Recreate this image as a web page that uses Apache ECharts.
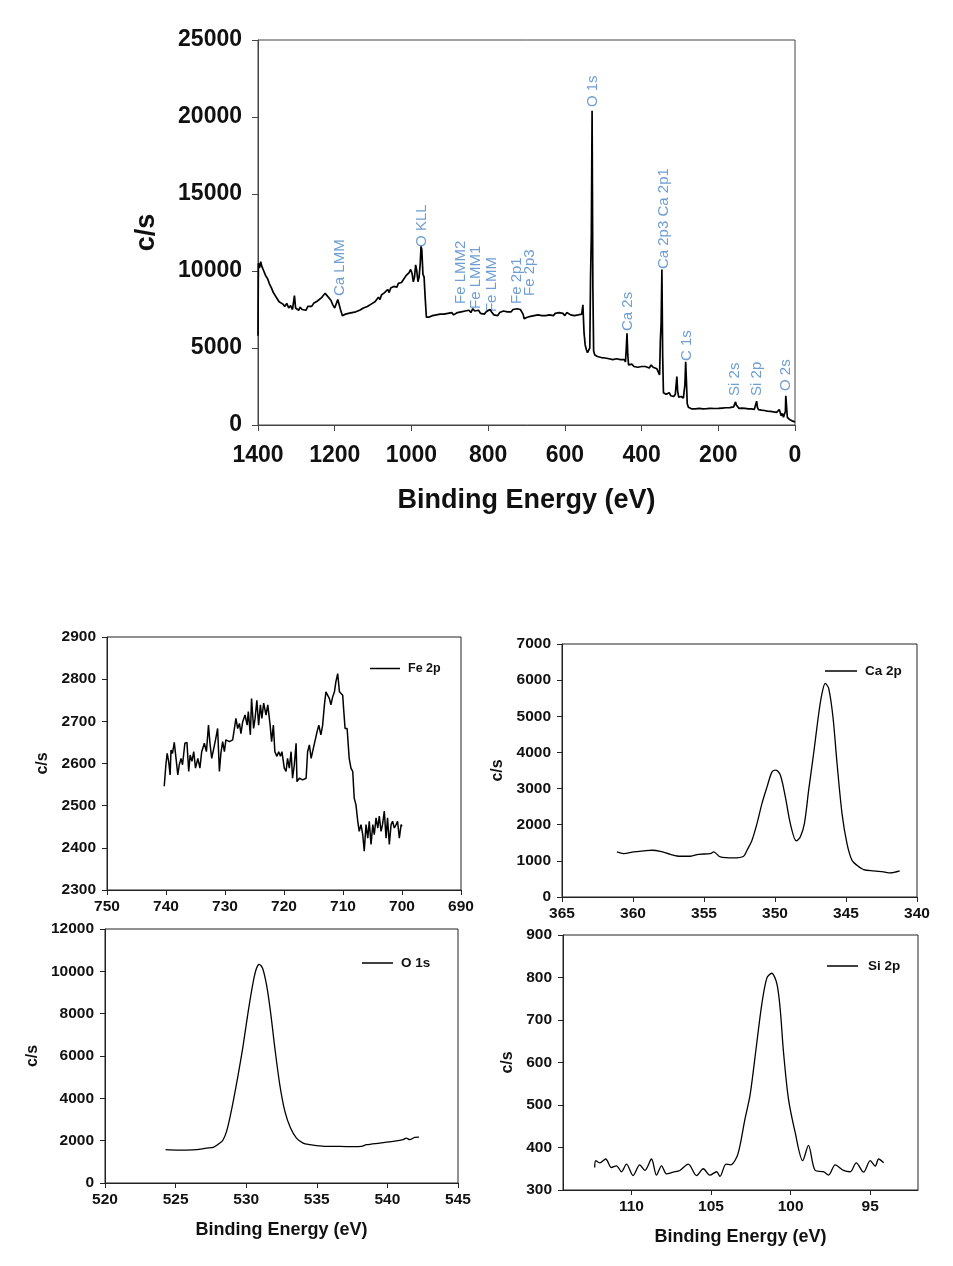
<!DOCTYPE html>
<html>
<head>
<meta charset="utf-8">
<script src="https://cdn.jsdelivr.net/npm/echarts@6/dist/echarts.min.js"></script>
<style>
html,body{margin:0;padding:0;background:#fff;}
#chart{width:953px;height:1266px;}
</style>
</head>
<body>
<div id="chart"></div>
<script>
// ---------- Survey spectrum ----------
const surveyBE = [1400,1399,1396,1393,1390,1385,1380,1375,1370,1365,1360,1355,1350,1345,1340,1335,1330,1325,1320,1315,1310,1305,1302,1298,1294,1290,1285,1280,1275,1270,1265,1260,1255,1250,1245,1240,1235,1230,1225,1220,1215,1210,1205,1200,1196,1192,1188,1185,1180,1176,1172,1168,1164,1160,1155,1150,1145,1140,1135,1130,1125,1120,1115,1110,1105,1100,1095,1090,1086,1082,1078,1074,1070,1066,1062,1058,1054,1050,1046,1042,1038,1034,1030,1026,1022,1018,1014,1010,1006,1002,998,995,992,989,986,983,980,977,975,973,970,967,964,961,958,955,950,945,940,935,930,925,920,915,910,905,900,895,890,885,880,875,870,865,860,855,850,845,840,835,830,825,820,815,810,805,800,795,790,785,780,775,770,765,760,755,750,745,740,735,730,725,720,716,712,709,706,702,698,694,690,685,680,675,670,665,660,655,650,645,640,635,630,625,620,615,610,605,600,595,590,585,580,575,570,565,560,556,553,550,547,544,541,538,535,533,531,529,527,525,522,520,515,510,505,500,495,490,485,480,475,470,465,460,455,450,445,442,440,438,436,434,430,425,420,415,410,405,400,395,390,385,380,375,370,365,360,356,353,351,349,347,345,343,340,336,332,328,324,320,316,312,310,308,306,303,300,297,294,291,289,287,285,283,281,278,275,270,265,260,255,250,245,240,235,230,225,220,215,210,205,200,195,190,185,180,175,170,165,160,157,155,153,150,146,142,138,134,130,126,122,118,114,110,106,102,100,98,95,92,88,84,80,76,72,68,64,60,56,52,48,44,41,39,36,33,30,27,25,24,22,20,17,14,10,6,3,0];
const surveyCps = [5800,10500,10200,10600,10300,10000,9700,9500,9150,8900,8600,8400,8200,8000,7950,7850,7700,7900,7600,7750,7500,8400,7600,7700,7450,7650,7500,7550,7450,7700,7800,7700,7900,7950,8050,8100,8250,8350,8550,8400,8350,8100,7800,7600,7700,8150,8200,7500,7100,7000,7200,7100,7250,7200,7300,7250,7350,7300,7450,7400,7600,7550,7700,7650,7850,7800,8000,8050,8300,8150,8450,8350,8600,8500,8800,8600,8900,8850,9000,9100,8950,9200,9300,9250,9400,9500,9700,9600,9900,10100,9800,9300,9600,10400,10000,9300,9600,10500,11600,11400,9800,9600,8200,7000,6900,7000,6950,7100,7000,7150,7050,7200,7100,7200,7150,7250,7200,7300,7150,7250,7300,7200,7350,7300,7400,7350,7450,7300,7550,7400,7350,7450,7250,7300,7200,7350,7250,7500,7300,7150,7250,7100,7300,7250,7400,7300,7350,7450,7350,7500,7400,7550,7450,7500,7600,7200,6900,6850,7000,6950,7050,7000,7100,7000,7150,7050,7100,7200,7100,7200,7150,7250,7100,7250,7150,7300,7200,7250,7100,7300,7200,7150,7250,7100,7200,7150,7100,7200,7800,6000,5200,4900,4700,4850,5000,9600,12300,20400,9000,4800,4550,4500,4450,4480,4380,4420,4350,4400,4300,4350,4250,4350,4300,4200,4250,4150,4250,4100,4900,5950,4600,3900,3850,3950,3800,3900,3750,3850,3800,3900,3800,3850,3700,3900,3750,3800,3650,3600,3250,5500,6600,10100,4500,2100,2050,2000,1950,2100,1900,1950,1850,2000,2600,3150,2200,1800,1750,1850,1900,1750,2200,2600,4100,2800,1400,1150,1100,1050,1100,1050,1100,1080,1100,1050,1100,1060,1120,1080,1100,1070,1120,1080,1120,1100,1140,1120,1150,1130,1160,1180,1200,1500,1300,1180,1080,1050,1100,1000,1080,1020,1050,980,1050,1000,1020,1100,1550,1150,1000,950,970,920,940,880,900,850,880,820,850,780,820,700,1000,850,600,750,500,450,900,1900,1800,500,400,350,300,250,200,200];

const annotNames = ['Ca LMM','O KLL','Fe LMM2','Fe LMM1','Fe LMM','Fe 2p1','Fe 2p3','O 1s','Ca 2s','Ca 2p3 Ca 2p1','C 1s','Si 2s','Si 2p','O 2s'];
const annotBE = [1186,972,871,832,790,725,691,527,435,342,282,156,99,23];
const annotCps = [8310,11500,7790,7470,7270,7790,8310,20580,6040,10060,4090,1820,1820,2140];

// ---------- Fe 2p ----------
const feBE = [740.3,740.0,739.8,739.55,739.3,739.15,738.9,738.6,738.3,738.0,737.75,737.45,737.2,736.8,736.45,736.15,735.9,735.6,735.3,735.0,734.6,734.25,733.95,733.5,733.15,732.8,732.55,732.25,731.9,731.55,731.25,730.95,730.7,730.4,730.1,729.85,729.25,728.7,728.15,727.85,727.55,727.3,727.0,726.6,726.25,726.05,725.7,725.5,725.15,724.9,724.6,724.3,724.0,723.75,723.45,723.05,722.75,722.35,722.1,721.8,721.55,721.2,720.9,720.6,720.35,719.95,719.65,719.4,719.1,718.8,718.55,718.25,717.95,717.8,717.4,716.85,716.25,716.0,715.7,715.4,715.15,714.85,714.4,714.1,713.75,713.45,713.15,712.9,712.6,712.3,712.05,711.75,711.45,711.2,710.9,710.6,710.35,710.05,709.9,709.65,709.3,708.95,708.65,708.35,708.1,707.8,707.5,707.25,706.95,706.65,706.4,706.1,705.8,705.55,705.25,704.95,704.7,704.4,704.1,703.85,703.55,703.3,703.0,702.7,702.45,702.15,701.85,701.6,701.3,701.0,700.75,700.45,700.15,700.0];
const feCps = [2546,2600,2624,2605,2573,2632,2624,2650,2612,2573,2597,2612,2597,2648,2650,2581,2620,2605,2628,2589,2612,2589,2628,2648,2628,2691,2648,2612,2636,2660,2683,2581,2624,2652,2628,2656,2652,2656,2707,2683,2695,2671,2699,2715,2691,2723,2668,2754,2683,2707,2750,2691,2739,2707,2743,2715,2739,2691,2652,2691,2628,2617,2628,2617,2628,2589,2581,2612,2589,2628,2565,2597,2648,2557,2565,2561,2565,2628,2644,2612,2628,2632,2675,2691,2668,2691,2739,2770,2774,2754,2739,2758,2770,2794,2813,2770,2774,2762,2731,2683,2683,2612,2589,2581,2518,2502,2463,2439,2455,2431,2392,2455,2423,2463,2408,2455,2431,2471,2447,2475,2439,2455,2487,2423,2471,2408,2455,2463,2447,2455,2463,2423,2455,2451];

// ---------- Ca 2p ----------
const caBE = [361.13,360.66,359.95,359.25,358.66,358.08,357.37,356.67,355.96,355.38,354.55,354.32,353.85,352.91,352.21,351.97,351.62,351.27,350.92,350.56,350.21,349.93,349.62,349.27,348.92,348.5,348.22,347.93,347.63,347.28,346.92,346.69,346.46,346.22,345.92,345.63,345.28,344.93,344.58,344.23,343.76,343.05,342.35,341.88,341.22];
const caCps = [1247,1200,1247,1274,1293,1265,1182,1127,1127,1182,1200,1247,1108,1080,1127,1293,1570,2031,2585,3047,3463,3509,3370,2770,2031,1551,1662,2031,2955,3970,5078,5632,5910,5771,4986,3693,2308,1477,1016,877,757,720,693,665,720];

// ---------- O 1s ----------
const oBE = [524.29,525.07,525.78,526.49,527.19,527.67,528.14,528.37,528.61,528.84,529.08,529.43,529.79,530.14,530.5,530.73,530.92,531.16,531.44,531.72,532.03,532.38,532.74,533.14,533.56,534.03,534.5,534.98,535.68,536.63,537.57,538.16,538.51,539.46,540.4,541.11,541.34,541.58,541.93,542.24];
const oCps = [1573,1557,1557,1573,1651,1683,1887,2045,2438,3067,3853,5112,6527,8100,9516,10145,10333,10145,9358,8100,6370,4640,3382,2595,2123,1887,1809,1762,1730,1730,1714,1730,1809,1887,1966,2045,2123,2045,2155,2170];

// ---------- Si 2p ----------
const siBE = [112.31,112.24,111.99,111.62,111.26,110.94,110.63,110.31,109.9,109.48,109.16,108.74,108.43,108.11,107.8,107.38,106.96,106.43,105.91,105.49,105.07,104.65,104.44,104.06,103.77,103.39,103.18,102.87,102.55,102.17,101.82,101.5,101.19,100.87,100.66,100.45,100.14,99.72,99.24,98.88,98.46,97.94,97.62,97.2,96.68,96.26,95.88,95.42,95.0,94.69,94.47,94.16];
const siCps = [353,369,364,373,353,357,343,361,334,359,346,373,335,357,338,342,346,361,334,350,335,343,332,361,359,377,405,467,523,633,735,798,810,786,727,625,515,436,369,405,346,343,335,359,346,343,364,342,369,356,373,364];
const siXTicks = [95,100,105,110];

// ---------- build ----------
const FONT = 'Liberation Sans, Arial, sans-serif';
const pair = (xs, ys) => xs.map((x, i) => [x, ys[i]]);
const plain = v => String(v);

function xAx(gi, opt) {
  return Object.assign({
    type: 'value', gridIndex: gi,
    axisLine: {show: true, onZero: false, lineStyle: {color: '#222', width: 1}},
    axisTick: {show: true, inside: false, length: 5, lineStyle: {color: '#222'}},
    splitLine: {show: false},
    axisLabel: {color: '#111', fontFamily: FONT, fontWeight: 'bold', fontSize: 15.5, margin: 9, formatter: plain},
    nameLocation: 'middle',
    nameTextStyle: {color: '#111', fontFamily: FONT, fontWeight: 'bold', fontSize: 18}
  }, opt);
}
function yAx(gi, opt) {
  return Object.assign({
    type: 'value', gridIndex: gi,
    axisLine: {show: true, onZero: false, lineStyle: {color: '#222', width: 1}},
    axisTick: {show: true, inside: false, length: 5, lineStyle: {color: '#222'}},
    splitLine: {show: false},
    axisLabel: {color: '#111', fontFamily: FONT, fontWeight: 'bold', fontSize: 15.5, margin: 11, formatter: plain},
    nameLocation: 'middle',
    nameRotate: 90,
    nameTextStyle: {color: '#111', fontFamily: FONT, fontWeight: 'bold', fontSize: 16}
  }, opt);
}
const gridBase = {show: true, borderColor: '#222', borderWidth: 1, containLabel: false};

const lineStyleSmall = {color: '#000', width: 1.3};

const option = {
  animation: false,
  backgroundColor: '#fff',
  textStyle: {fontFamily: FONT},
  grid: [
    Object.assign({left: 258, top: 40, width: 537, height: 385}, gridBase, {borderColor: '#444'}),
    Object.assign({left: 107, top: 637, width: 354, height: 253}, gridBase),
    Object.assign({left: 562, top: 644, width: 355, height: 253}, gridBase),
    Object.assign({left: 105, top: 929, width: 353, height: 254}, gridBase),
    Object.assign({left: 563, top: 935, width: 355, height: 255}, gridBase)
  ],
  xAxis: [
    xAx(0, {min: 0, max: 1400, interval: 200, inverse: true, name: 'Binding Energy (eV)', nameGap: 62,
      axisLine: {show: true, onZero: false, lineStyle: {color: '#444', width: 1}},
      axisTick: {show: true, length: 6, lineStyle: {color: '#444'}},
      axisLabel: {color: '#111', fontFamily: FONT, fontWeight: 'bold', fontSize: 23, margin: 19, formatter: plain},
      nameTextStyle: {color: '#111', fontFamily: FONT, fontWeight: 'bold', fontSize: 27}}),
    xAx(1, {min: 690, max: 750, interval: 10, inverse: true}),
    xAx(2, {min: 340, max: 365, interval: 5, inverse: true}),
    xAx(3, {min: 520, max: 545, interval: 5, name: 'Binding Energy (eV)', nameGap: 38}),
    xAx(4, {min: 92, max: 114.3, inverse: true, name: 'Binding Energy (eV)', nameGap: 38,
      axisLabel: {color: '#111', fontFamily: FONT, fontWeight: 'bold', fontSize: 15.5, margin: 9, customValues: siXTicks, formatter: plain},
      axisTick: {show: true, length: 5, lineStyle: {color: '#222'}, customValues: siXTicks}})
  ],
  yAxis: [
    yAx(0, {min: 0, max: 25000, interval: 5000, name: 'c/s', nameGap: 98,
      axisLine: {show: true, onZero: false, lineStyle: {color: '#444', width: 1}},
      axisTick: {show: true, length: 6, lineStyle: {color: '#444'}},
      axisLabel: {color: '#111', fontFamily: FONT, fontWeight: 'bold', fontSize: 23, margin: 16, formatter: plain},
      nameTextStyle: {color: '#111', fontFamily: FONT, fontWeight: 'bold', fontSize: 27}}),
    yAx(1, {min: 2300, max: 2900, interval: 100, name: 'c/s', nameGap: 56}),
    yAx(2, {min: 0, max: 7000, interval: 1000, name: 'c/s', nameGap: 56}),
    yAx(3, {min: 0, max: 12000, interval: 2000, name: 'c/s', nameGap: 64}),
    yAx(4, {min: 300, max: 900, interval: 100, name: 'c/s', nameGap: 47})
  ],
  legend: [
    {data: ['Fe 2p'], left: 365, top: 657, itemWidth: 30, itemHeight: 1.5, icon: 'rect',
      textStyle: {color: '#111', fontFamily: FONT, fontWeight: 'bold', fontSize: 12.5, padding: [0,0,0,3]}},
    {data: ['Ca 2p'], left: 820, top: 659, itemWidth: 32, itemHeight: 1.5, icon: 'rect',
      textStyle: {color: '#111', fontFamily: FONT, fontWeight: 'bold', fontSize: 13.5, padding: [0,0,0,3]}},
    {data: ['O 1s'], left: 357, top: 951, itemWidth: 31, itemHeight: 1.5, icon: 'rect',
      textStyle: {color: '#111', fontFamily: FONT, fontWeight: 'bold', fontSize: 13.5, padding: [0,0,0,3]}},
    {data: ['Si 2p'], left: 822, top: 954, itemWidth: 31, itemHeight: 1.5, icon: 'rect',
      textStyle: {color: '#111', fontFamily: FONT, fontWeight: 'bold', fontSize: 13.5, padding: [0,0,0,5]}}
  ],
  series: [
    {type: 'line', name: 'Survey', xAxisIndex: 0, yAxisIndex: 0, showSymbol: false, symbol: 'none',
      lineStyle: {color: '#000', width: 1.7}, data: pair(surveyBE, surveyCps)},
    {type: 'scatter', name: 'labels', xAxisIndex: 0, yAxisIndex: 0, symbolSize: 0, silent: true,
      data: annotBE.map((x, i) => [x, annotCps[i], annotNames[i]]),
      label: {show: true, position: 'top', distance: 1, rotate: 90, align: 'left', verticalAlign: 'middle',
        formatter: p => p.data[2], color: '#4a86c8', fontFamily: FONT, fontSize: 15}},
    {type: 'line', name: 'Fe 2p', xAxisIndex: 1, yAxisIndex: 1, showSymbol: false, symbol: 'none', color: '#000',
      lineStyle: {color: '#000', width: 1.5}, data: pair(feBE, feCps)},
    {type: 'line', name: 'Ca 2p', xAxisIndex: 2, yAxisIndex: 2, showSymbol: false, symbol: 'none', color: '#000', smooth: 0.3,
      lineStyle: lineStyleSmall, data: pair(caBE, caCps)},
    {type: 'line', name: 'O 1s', xAxisIndex: 3, yAxisIndex: 3, showSymbol: false, symbol: 'none', color: '#000', smooth: 0.3,
      lineStyle: lineStyleSmall, data: pair(oBE, oCps)},
    {type: 'line', name: 'Si 2p', xAxisIndex: 4, yAxisIndex: 4, showSymbol: false, symbol: 'none', color: '#000', smooth: 0.3,
      lineStyle: lineStyleSmall, data: pair(siBE, siCps)}
  ]
};

const chart = echarts.init(document.getElementById('chart'), null, {renderer: 'canvas'});
chart.setOption(option);
</script>
</body>
</html>
